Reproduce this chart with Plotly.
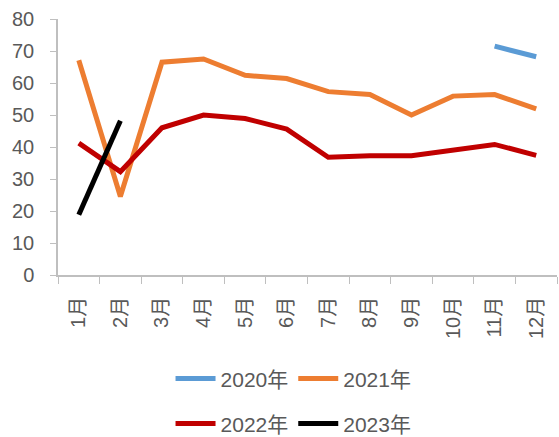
import plotly.graph_objects as go

months = ["1月", "2月", "3月", "4月", "5月", "6月", "7月", "8月", "9月", "10月", "11月", "12月"]

y2020 = [None, None, None, None, None, None, None, None, None, None, 71.5, 68.2]
y2021 = [67.1, 24.5, 66.5, 67.5, 62.4, 61.4, 57.3, 56.4, 50.0, 55.9, 56.4, 51.9]
y2022 = [41.2, 32.3, 46.0, 50.0, 48.9, 45.6, 36.8, 37.3, 37.3, 38.9, 40.8, 37.4]
y2023 = [18.8, 48.2, None, None, None, None, None, None, None, None, None, None]

series = [
    ("2020年", y2020, "#5b9bd5", "legend"),
    ("2021年", y2021, "#ed7d31", "legend"),
    ("2022年", y2022, "#c00000", "legend2"),
    ("2023年", y2023, "#000000", "legend2"),
]

font_family = "Liberation Sans, Noto Sans CJK SC, sans-serif"
text_color = "#595959"

fig = go.Figure()
for name, vals, color, lg in series:
    fig.add_trace(go.Scatter(
        x=months, y=vals, name=name, mode="lines",
        line=dict(color=color, width=5),
        connectgaps=False, legend=lg,
    ))

legend_style = dict(
    orientation="h", xanchor="center", x=0.472, yanchor="middle",
    yref="container",
    font=dict(family=font_family, size=21, color=text_color),
    bgcolor="rgba(0,0,0,0)", itemwidth=40, tracegroupgap=0,
)

fig.update_layout(
    width=559, height=437,
    margin=dict(l=58, r=2, t=19, b=162),
    paper_bgcolor="white", plot_bgcolor="white",
    showlegend=True,
    legend=dict(y=0.133, **legend_style),
    legend2=dict(y=0.030, **legend_style),
    xaxis=dict(
        type="category", tickangle=-90, automargin=False,
        showline=True, linecolor="#bfbfbf", linewidth=1.5,
        ticks="outside", tickson="boundaries", ticklen=7, tickcolor="#bfbfbf",
        ticklabelstandoff=12,
        showgrid=False, range=[-0.5, 11.5],
        tickfont=dict(family=font_family, size=20, color=text_color),
    ),
    yaxis=dict(
        range=[0, 80], dtick=10, automargin=False,
        showline=True, linecolor="#bfbfbf", linewidth=1.5,
        ticks="outside", ticklen=6, tickcolor="#bfbfbf",
        ticklabelstandoff=12,
        showgrid=False, zeroline=False,
        tickfont=dict(family=font_family, size=20, color=text_color),
    ),
)

fig.write_html("out.html")
